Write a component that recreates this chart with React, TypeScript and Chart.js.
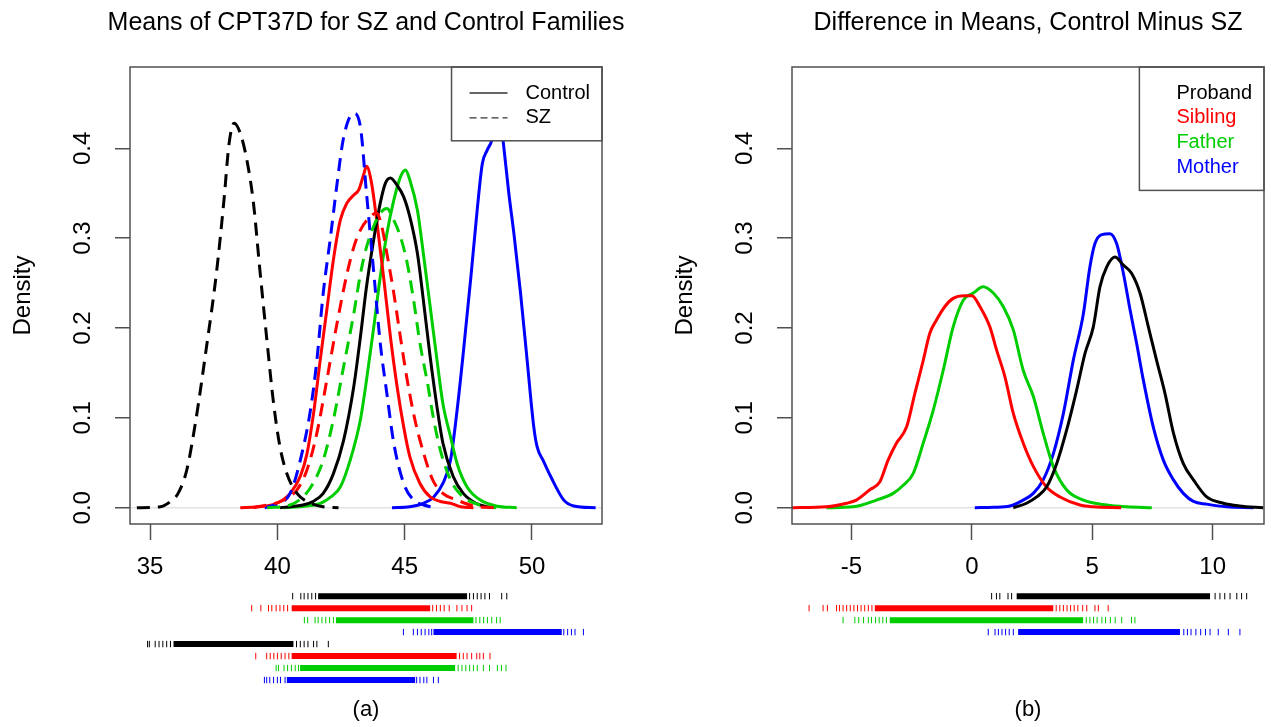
import { useEffect, useRef } from 'react';
import { Chart, registerables } from 'chart.js';

Chart.register(...registerables);

const FONT = '"Liberation Sans", Arial, Helvetica, sans-serif';
Chart.defaults.font.family = FONT;

// ---------- text ----------
const titleA = 'Means of CPT37D for SZ and Control Families';
const titleB = 'Difference in Means, Control Minus SZ';
const yAxisTitle = 'Density';
const captionA = '(a)';
const captionB = '(b)';
const legendLabelsA = ['Control', 'SZ'];
const legendLabelsB = ['Proband', 'Sibling', 'Father', 'Mother'];

// ---------- axis ranges ----------
const xRangeA = [34.21, 52.75];
const xRangeB = [-7.47, 12.13];
const yRange = [-0.0181, 0.4905];
const xStep = 5;
const yStep = 0.1;

// ---------- panel (a): posterior densities of means ----------
const ctrlProbandX = [40.1, 41.0, 41.4, 41.8, 42.2, 42.6, 43.0, 43.26, 43.5, 43.78, 44.04, 44.24, 44.44, 44.7, 44.96, 45.2, 45.5, 45.75, 46.0, 46.27, 46.5, 46.9, 47.3, 47.8, 48.37];
const ctrlProbandY = [0, 0.003, 0.007, 0.016, 0.038, 0.075, 0.135, 0.19, 0.246, 0.298, 0.339, 0.361, 0.367, 0.359, 0.346, 0.324, 0.283, 0.227, 0.168, 0.112, 0.072, 0.035, 0.016, 0.005, 0];

const ctrlSiblingX = [38.54, 39.2, 39.98, 40.5, 40.9, 41.16, 41.42, 41.68, 41.94, 42.2, 42.47, 42.73, 43.0, 43.2, 43.4, 43.5, 43.7, 43.9, 44.17, 44.44, 44.7, 44.96, 45.2, 45.6, 46.0, 46.4, 46.8, 47.2, 47.7];
const ctrlSiblingY = [0, 0.001, 0.005, 0.016, 0.035, 0.06, 0.105, 0.164, 0.22, 0.276, 0.32, 0.339, 0.348, 0.354, 0.372, 0.38, 0.361, 0.32, 0.257, 0.19, 0.135, 0.09, 0.057, 0.027, 0.012, 0.007, 0.005, 0.001, 0];

const ctrlFatherX = [40.24, 41.16, 41.7, 42.1, 42.47, 42.86, 43.26, 43.5, 43.78, 44.04, 44.3, 44.57, 44.83, 45.03, 45.2, 45.5, 45.75, 46.0, 46.27, 46.5, 46.8, 47.06, 47.45, 47.97, 48.6, 49.4];
const ctrlFatherY = [0, 0.002, 0.005, 0.012, 0.023, 0.053, 0.098, 0.142, 0.2, 0.257, 0.305, 0.342, 0.368, 0.376, 0.365, 0.331, 0.279, 0.224, 0.164, 0.116, 0.079, 0.049, 0.023, 0.0085, 0.002, 0];

const ctrlMotherX = [44.5, 45.2, 45.75, 46.14, 46.5, 46.8, 47.06, 47.3, 47.6, 47.86, 48.05, 48.24, 48.43, 48.58, 48.72, 48.86, 49.09, 49.29, 49.55, 49.81, 50.07, 50.2, 50.45, 50.73, 51.25, 51.64, 52.5];
const ctrlMotherY = [0, 0.001, 0.005, 0.012, 0.027, 0.053, 0.109, 0.172, 0.257, 0.335, 0.383, 0.398, 0.41, 0.435, 0.445, 0.41, 0.35, 0.305, 0.239, 0.164, 0.09, 0.068, 0.052, 0.035, 0.0085, 0.002, 0];

const szProbandX = [34.48, 35.4, 35.8, 36.1, 36.44, 36.8, 37.2, 37.6, 37.9, 38.1, 38.3, 38.54, 38.8, 39.06, 39.3, 39.6, 39.85, 40.1, 40.37, 40.77, 41.3, 41.8, 42.4];
const szProbandY = [0, 0.001, 0.007, 0.016, 0.042, 0.098, 0.176, 0.26, 0.342, 0.405, 0.428, 0.417, 0.387, 0.339, 0.268, 0.183, 0.116, 0.068, 0.038, 0.016, 0.005, 0.001, 0];

const szSiblingX = [39.06, 40.24, 40.77, 41.16, 41.55, 41.94, 42.34, 42.73, 43.0, 43.26, 43.65, 43.9, 44.1, 44.3, 44.57, 44.83, 45.1, 45.4, 45.75, 46.1, 46.5, 47.06, 47.7, 48.5];
const szSiblingY = [0, 0.0085, 0.02, 0.042, 0.083, 0.142, 0.205, 0.26, 0.29, 0.309, 0.324, 0.328, 0.313, 0.283, 0.239, 0.19, 0.142, 0.098, 0.06, 0.031, 0.016, 0.0085, 0.002, 0];

const szFatherX = [39.6, 40.5, 41.0, 41.4, 41.8, 42.2, 42.6, 43.0, 43.26, 43.5, 43.78, 44.04, 44.3, 44.57, 44.83, 45.1, 45.35, 45.6, 45.9, 46.14, 46.4, 46.8, 47.3, 47.97, 48.6];
const szFatherY = [0, 0.003, 0.012, 0.027, 0.053, 0.098, 0.157, 0.216, 0.26, 0.29, 0.313, 0.328, 0.333, 0.32, 0.302, 0.272, 0.231, 0.183, 0.138, 0.098, 0.064, 0.031, 0.012, 0.003, 0];

const szMotherX = [39.5, 39.97, 40.5, 40.9, 41.3, 41.55, 41.8, 42.08, 42.34, 42.6, 43.0, 43.26, 43.5, 43.8, 44.04, 44.3, 44.57, 44.96, 45.35, 45.75, 46.27];
const szMotherY = [0, 0.004, 0.016, 0.053, 0.109, 0.164, 0.239, 0.3, 0.36, 0.412, 0.439, 0.424, 0.35, 0.257, 0.183, 0.127, 0.072, 0.027, 0.0085, 0.003, 0];

// ---------- panel (b): differences, control minus SZ ----------
const diffProbandX = [1.72, 2.27, 2.69, 3.1, 3.52, 3.93, 4.35, 4.7, 5.04, 5.32, 5.6, 5.94, 6.29, 6.63, 6.98, 7.33, 7.67, 8.02, 8.37, 8.78, 9.2, 9.75, 10.44, 11.1, 12.1];
const diffProbandY = [0, 0.005, 0.012, 0.023, 0.049, 0.086, 0.131, 0.172, 0.201, 0.246, 0.268, 0.279, 0.27, 0.261, 0.239, 0.201, 0.164, 0.127, 0.083, 0.049, 0.031, 0.012, 0.005, 0.002, 0];

const diffSiblingX = [-7.47, -6.04, -5.2, -4.8, -4.24, -3.82, -3.48, -3.13, -2.71, -2.37, -2.02, -1.75, -1.47, -1.12, -0.78, -0.36, 0, 0.33, 0.75, 1.02, 1.37, 1.72, 2.13, 2.55, 3.1, 3.66, 4.49, 5.04, 6.2];
const diffSiblingY = [0, 0.001, 0.005, 0.0085, 0.02, 0.029, 0.053, 0.072, 0.09, 0.127, 0.164, 0.194, 0.209, 0.224, 0.233, 0.236, 0.236, 0.224, 0.201, 0.176, 0.146, 0.105, 0.072, 0.046, 0.023, 0.012, 0.003, 0.001, 0];

const diffFatherX = [-6.04, -4.93, -3.96, -3.27, -2.85, -2.44, -2.02, -1.6, -1.19, -0.78, -0.36, 0.06, 0.47, 0.89, 1.3, 1.72, 2.13, 2.55, 2.96, 3.38, 3.93, 4.63, 5.6, 6.43, 7.47];
const diffFatherY = [0, 0.001, 0.0085, 0.016, 0.025, 0.038, 0.072, 0.109, 0.153, 0.201, 0.231, 0.239, 0.246, 0.239, 0.224, 0.198, 0.153, 0.124, 0.083, 0.046, 0.02, 0.0085, 0.003, 0.001, 0];

const diffMotherX = [0.12, 0.89, 1.58, 2.13, 2.55, 2.96, 3.38, 3.8, 4.21, 4.63, 4.9, 5.11, 5.39, 5.73, 6.01, 6.29, 6.57, 6.84, 7.12, 7.53, 7.95, 8.37, 8.78, 9.2, 9.75, 10.58, 11.69];
const diffMotherY = [0, 0.0005, 0.002, 0.0085, 0.016, 0.031, 0.06, 0.105, 0.164, 0.216, 0.268, 0.294, 0.304, 0.305, 0.294, 0.261, 0.22, 0.183, 0.142, 0.09, 0.053, 0.031, 0.016, 0.007, 0.004, 0.001, 0];

// ---------- rugs (draw values): dense span [from, to] and isolated draws ----------
const rugCtrlProbandDense = [41.6, 47.45];
const rugCtrlProbandSparse = [40.6, 40.92, 41.05, 41.2, 41.35, 41.5, 47.55, 47.7, 47.85, 48.0, 48.15, 48.33, 48.81, 49.01];
const rugCtrlSiblingDense = [40.56, 46.0];
const rugCtrlSiblingSparse = [38.99, 39.35, 39.65, 39.78, 39.95, 40.1, 40.25, 40.4, 46.1, 46.25, 46.4, 46.55, 46.75, 47.05, 47.25, 47.45, 47.63];
const rugCtrlFatherDense = [42.3, 47.7];
const rugCtrlFatherSparse = [41.06, 41.19, 41.48, 41.6, 41.75, 41.9, 42.05, 42.2, 47.8, 47.95, 48.1, 48.25, 48.42, 48.61, 48.75];
const rugCtrlMotherDense = [46.13, 51.17];
const rugCtrlMotherSparse = [44.95, 45.34, 45.5, 45.65, 45.8, 45.95, 46.06, 51.25, 51.4, 51.55, 51.69, 52.02];
const rugSzProbandDense = [35.92, 40.63];
const rugSzProbandSparse = [34.9, 34.97, 35.2, 35.35, 35.5, 35.65, 35.8, 40.75, 40.9, 41.05, 41.2, 41.42, 41.55, 42.0];
const rugSzSiblingDense = [40.56, 47.04];
const rugSzSiblingSparse = [39.15, 39.58, 39.72, 39.86, 40.0, 40.15, 40.3, 40.45, 47.15, 47.3, 47.45, 47.63, 47.83, 47.95, 48.09, 48.35];
const rugSzFatherDense = [40.89, 46.98];
const rugSzFatherSparse = [39.95, 40.04, 40.26, 40.4, 40.55, 40.7, 40.83, 47.1, 47.25, 47.4, 47.55, 47.7, 47.85, 48.09, 48.33, 48.64, 48.8, 48.98];
const rugSzMotherDense = [40.37, 45.41];
const rugSzMotherSparse = [39.49, 39.58, 39.7, 39.85, 40.0, 40.12, 40.3, 45.47, 45.6, 45.75, 45.87, 46.13, 46.32];

const rugDiffProbandDense = [1.86, 9.89];
const rugDiffProbandSparse = [0.82, 1.02, 1.16, 1.5, 1.65, 10.1, 10.3, 10.5, 10.72, 11.0, 11.2, 11.41];
const rugDiffSiblingDense = [-4.03, 3.38];
const rugDiffSiblingSparse = [-6.76, -6.18, -6.0, -5.62, -5.5, -5.35, -5.2, -5.05, -4.9, -4.75, -4.6, -4.45, -4.3, -4.15, 3.5, 3.65, 3.8, 3.95, 4.1, 4.25, 4.4, 4.6, 4.77, 5.11, 5.25, 5.66];
const rugDiffFatherDense = [-3.41, 4.62];
const rugDiffFatherSparse = [-5.35, -4.86, -4.7, -4.5, -4.3, -4.17, -4.0, -3.85, -3.7, -3.55, 4.75, 4.9, 5.05, 5.2, 5.4, 5.55, 5.75, 5.95, 6.22, 6.63, 6.77];
const rugDiffMotherDense = [1.92, 8.64];
const rugDiffMotherSparse = [0.68, 0.96, 1.1, 1.25, 1.4, 1.55, 1.72, 8.8, 8.95, 9.1, 9.3, 9.5, 9.7, 9.89, 10.23, 10.65, 11.13];

// ---------- styles ----------
const BLACK = '#000000';
const RED = '#FF0000';
const GREEN = '#00CD00';
const BLUE = '#0000FF';
const AXIS = '#505050';
const DASH = [13, 8];

const pts = (xs: number[], ys: number[]) => xs.map((x, i) => ({ x, y: ys[i] }));

type Curve = { x: number[]; y: number[]; color: string; dashed: boolean };
type Rug = { dense: number[]; sparse: number[]; color: string };

const curvesA: Curve[] = [
  { x: szProbandX, y: szProbandY, color: BLACK, dashed: true },
  { x: szSiblingX, y: szSiblingY, color: RED, dashed: true },
  { x: szFatherX, y: szFatherY, color: GREEN, dashed: true },
  { x: szMotherX, y: szMotherY, color: BLUE, dashed: true },
  { x: ctrlProbandX, y: ctrlProbandY, color: BLACK, dashed: false },
  { x: ctrlSiblingX, y: ctrlSiblingY, color: RED, dashed: false },
  { x: ctrlFatherX, y: ctrlFatherY, color: GREEN, dashed: false },
  { x: ctrlMotherX, y: ctrlMotherY, color: BLUE, dashed: false },
];
const curvesB: Curve[] = [
  { x: diffProbandX, y: diffProbandY, color: BLACK, dashed: false },
  { x: diffSiblingX, y: diffSiblingY, color: RED, dashed: false },
  { x: diffFatherX, y: diffFatherY, color: GREEN, dashed: false },
  { x: diffMotherX, y: diffMotherY, color: BLUE, dashed: false },
];
const rugsA: Rug[] = [
  { dense: rugCtrlProbandDense, sparse: rugCtrlProbandSparse, color: BLACK },
  { dense: rugCtrlSiblingDense, sparse: rugCtrlSiblingSparse, color: RED },
  { dense: rugCtrlFatherDense, sparse: rugCtrlFatherSparse, color: GREEN },
  { dense: rugCtrlMotherDense, sparse: rugCtrlMotherSparse, color: BLUE },
  { dense: rugSzProbandDense, sparse: rugSzProbandSparse, color: BLACK },
  { dense: rugSzSiblingDense, sparse: rugSzSiblingSparse, color: RED },
  { dense: rugSzFatherDense, sparse: rugSzFatherSparse, color: GREEN },
  { dense: rugSzMotherDense, sparse: rugSzMotherSparse, color: BLUE },
];
const rugsB: Rug[] = [
  { dense: rugDiffProbandDense, sparse: rugDiffProbandSparse, color: BLACK },
  { dense: rugDiffSiblingDense, sparse: rugDiffSiblingSparse, color: RED },
  { dense: rugDiffFatherDense, sparse: rugDiffFatherSparse, color: GREEN },
  { dense: rugDiffMotherDense, sparse: rugDiffMotherSparse, color: BLUE },
];

type LegendCfg = {
  labels: string[];
  textColors: string[];
  lineDashes: (number[] | null)[];
  textStart: number;
};
const legendA: LegendCfg = {
  labels: legendLabelsA,
  textColors: [BLACK, BLACK],
  lineDashes: [[], [7, 4]],
  textStart: 74,
};
const legendB: LegendCfg = {
  labels: legendLabelsB,
  textColors: [BLACK, RED, GREEN, BLUE],
  lineDashes: [null, null, null, null],
  textStart: 37,
};

// ---------- layout ----------
const PANEL_W = [660, 609];
const DENS_H = 580;
const RUG_H = 147;
const PANEL_LEFT = [0, 662];
const PLOT_TOP = 67;
const PLOT_RIGHT = 602; // right edge of the plot box inside each panel canvas

function panelPlugin(title: string, legend: LegendCfg) {
  return {
    id: 'panelDecor',
    afterDatasetsDraw(chart: any) {
      const { ctx, chartArea } = chart;
      ctx.save();
      // R-style legend box, top-right of plot region
      ctx.font = `20px ${FONT}`;
      const maxW = Math.max(...legend.labels.map((l) => ctx.measureText(l).width));
      const rowH = 24.8;
      const w = legend.textStart + maxW + 12;
      const h = 26 + rowH * (legend.labels.length - 1) + 23;
      const x0 = chartArea.right - w;
      const y0 = chartArea.top;
      ctx.fillStyle = '#ffffff';
      ctx.fillRect(x0, y0, w, h);
      ctx.strokeStyle = AXIS;
      ctx.lineWidth = 1.5;
      ctx.setLineDash([]);
      ctx.strokeRect(x0, y0, w, h);
      legend.labels.forEach((label, i) => {
        const y = y0 + 26 + i * rowH;
        const dash = legend.lineDashes[i];
        if (dash) {
          ctx.beginPath();
          ctx.setLineDash(dash);
          ctx.strokeStyle = '#333333';
          ctx.lineWidth = 1.3;
          ctx.moveTo(x0 + 18, y);
          ctx.lineTo(x0 + 56, y);
          ctx.stroke();
          ctx.setLineDash([]);
        }
        ctx.fillStyle = legend.textColors[i];
        ctx.textAlign = 'left';
        ctx.textBaseline = 'middle';
        ctx.fillText(label, x0 + legend.textStart, y);
      });
      // plot box
      ctx.strokeStyle = AXIS;
      ctx.lineWidth = 1.5;
      ctx.strokeRect(chartArea.left, chartArea.top, chartArea.right - chartArea.left, chartArea.bottom - chartArea.top);
      // main title, centred over the plot region (as in R)
      ctx.fillStyle = '#000000';
      ctx.font = `25px ${FONT}`;
      ctx.textAlign = 'center';
      ctx.textBaseline = 'middle';
      ctx.fillText(title, (chartArea.left + chartArea.right) / 2, 23);
      ctx.restore();
    },
  };
}

function makeDensity(canvas: HTMLCanvasElement, width: number, title: string, xRange: number[], curves: Curve[], legend: LegendCfg) {
  return new Chart(canvas, {
    type: 'scatter',
    data: {
      datasets: curves.map((c) => ({
        data: pts(c.x, c.y),
        borderColor: c.color,
        backgroundColor: c.color,
        borderWidth: 3,
        borderDash: c.dashed ? DASH : [],
        showLine: true,
        pointRadius: 0,
        pointHoverRadius: 0,
        cubicInterpolationMode: 'monotone',
        fill: false,
      })),
    },
    options: {
      responsive: false,
      animation: false,
      events: [],
      layout: { padding: { left: 0, right: width - PLOT_RIGHT, top: PLOT_TOP, bottom: 0 } },
      plugins: {
        legend: { display: false },
        tooltip: { enabled: false },
        title: { display: false },
      },
      scales: {
        x: {
          type: 'linear',
          min: xRange[0],
          max: xRange[1],
          afterFit: (s: any) => { s.height = DENS_H - 524; },
          border: { display: false },
          grid: { drawOnChartArea: false, drawTicks: true, tickLength: 16, tickColor: AXIS, tickWidth: 1.5 },
          ticks: {
            stepSize: xStep,
            includeBounds: false,
            autoSkip: false,
            minRotation: 0,
            maxRotation: 0,
            padding: 13,
            color: '#000',
            font: { family: FONT, size: 24 },
            callback: (v: any) => String(v),
          },
        },
        y: {
          type: 'linear',
          min: yRange[0],
          max: yRange[1],
          afterFit: (s: any) => { s.width = 130; },
          border: { display: false },
          grid: {
            drawOnChartArea: true,
            color: (ctx: any) => (ctx.tick && ctx.tick.value === 0 ? '#e2e2e2' : 'rgba(0,0,0,0)'),
            lineWidth: 1.5,
            drawTicks: true,
            tickLength: 15,
            tickColor: AXIS,
            tickWidth: 1.5,
          },
          ticks: {
            stepSize: yStep,
            includeBounds: false,
            minRotation: 90,
            maxRotation: 90,
            crossAlign: 'center',
            padding: 15,
            color: '#000',
            font: { family: FONT, size: 24 },
            callback: (v: any) => Number(v).toFixed(1),
          },
          title: {
            display: true,
            text: yAxisTitle,
            color: '#000',
            font: { family: FONT, size: 24 },
            padding: { top: 9, bottom: 0 },
          },
        },
      },
    } as any,
    plugins: [panelPlugin(title, legend)],
  });
}

function makeRug(canvas: HTMLCanvasElement, width: number, caption: string, xRange: number[], rugs: Rug[]) {
  const datasets: any[] = [];
  rugs.forEach((r, i) => {
    const row = i + 1;
    datasets.push({
      data: r.dense.map((x) => ({ x, y: row })),
      borderColor: r.color,
      borderWidth: 6,
      borderCapStyle: 'butt',
      showLine: true,
      pointRadius: 0,
      pointHoverRadius: 0,
    });
    datasets.push({
      data: r.sparse.map((x) => ({ x, y: row })),
      borderColor: r.color,
      backgroundColor: r.color,
      showLine: false,
      pointStyle: 'line',
      rotation: 90,
      pointRadius: 3.2,
      pointBorderWidth: 1,
      pointHoverRadius: 0,
    });
  });
  return new Chart(canvas, {
    type: 'scatter',
    data: { datasets },
    options: {
      responsive: false,
      animation: false,
      events: [],
      layout: { padding: { left: 130, right: width - PLOT_RIGHT, top: 0, bottom: 0 } },
      plugins: {
        legend: { display: false },
        tooltip: { enabled: false },
        title: {
          display: true,
          text: caption,
          position: 'bottom',
          fullSize: false,
          color: '#000',
          font: { family: FONT, size: 22, weight: 'normal' },
          padding: { top: 5, bottom: 3.6 },
        },
      },
      scales: {
        x: { type: 'linear', display: false, min: xRange[0], max: xRange[1] },
        y: { type: 'linear', display: false, min: 0, max: 9, reverse: true },
      },
    } as any,
  });
}

function Panel({ left, width, title, caption, xRange, curves, rugs, legend }: any) {
  const densRef = useRef<HTMLCanvasElement>(null);
  const rugRef = useRef<HTMLCanvasElement>(null);
  useEffect(() => {
    const c1 = makeDensity(densRef.current!, width, title, xRange, curves, legend);
    const c2 = makeRug(rugRef.current!, width, caption, xRange, rugs);
    return () => {
      c1.destroy();
      c2.destroy();
    };
  }, []);
  return (
    <>
      <canvas
        ref={densRef}
        width={width}
        height={DENS_H}
        style={{ position: 'absolute', left, top: 0, width, height: DENS_H }}
      />
      <canvas
        ref={rugRef}
        width={width}
        height={RUG_H}
        style={{ position: 'absolute', left, top: DENS_H, width, height: RUG_H }}
      />
    </>
  );
}

export default function App() {
  return (
    <div
      style={{
        position: 'absolute',
        left: 0,
        top: 0,
        width: 1271,
        height: 727,
        background: '#ffffff',
        overflow: 'hidden',
      }}
    >
      <Panel left={PANEL_LEFT[0]} width={PANEL_W[0]} title={titleA} caption={captionA} xRange={xRangeA} curves={curvesA} rugs={rugsA} legend={legendA} />
      <Panel left={PANEL_LEFT[1]} width={PANEL_W[1]} title={titleB} caption={captionB} xRange={xRangeB} curves={curvesB} rugs={rugsB} legend={legendB} />
    </div>
  );
}
